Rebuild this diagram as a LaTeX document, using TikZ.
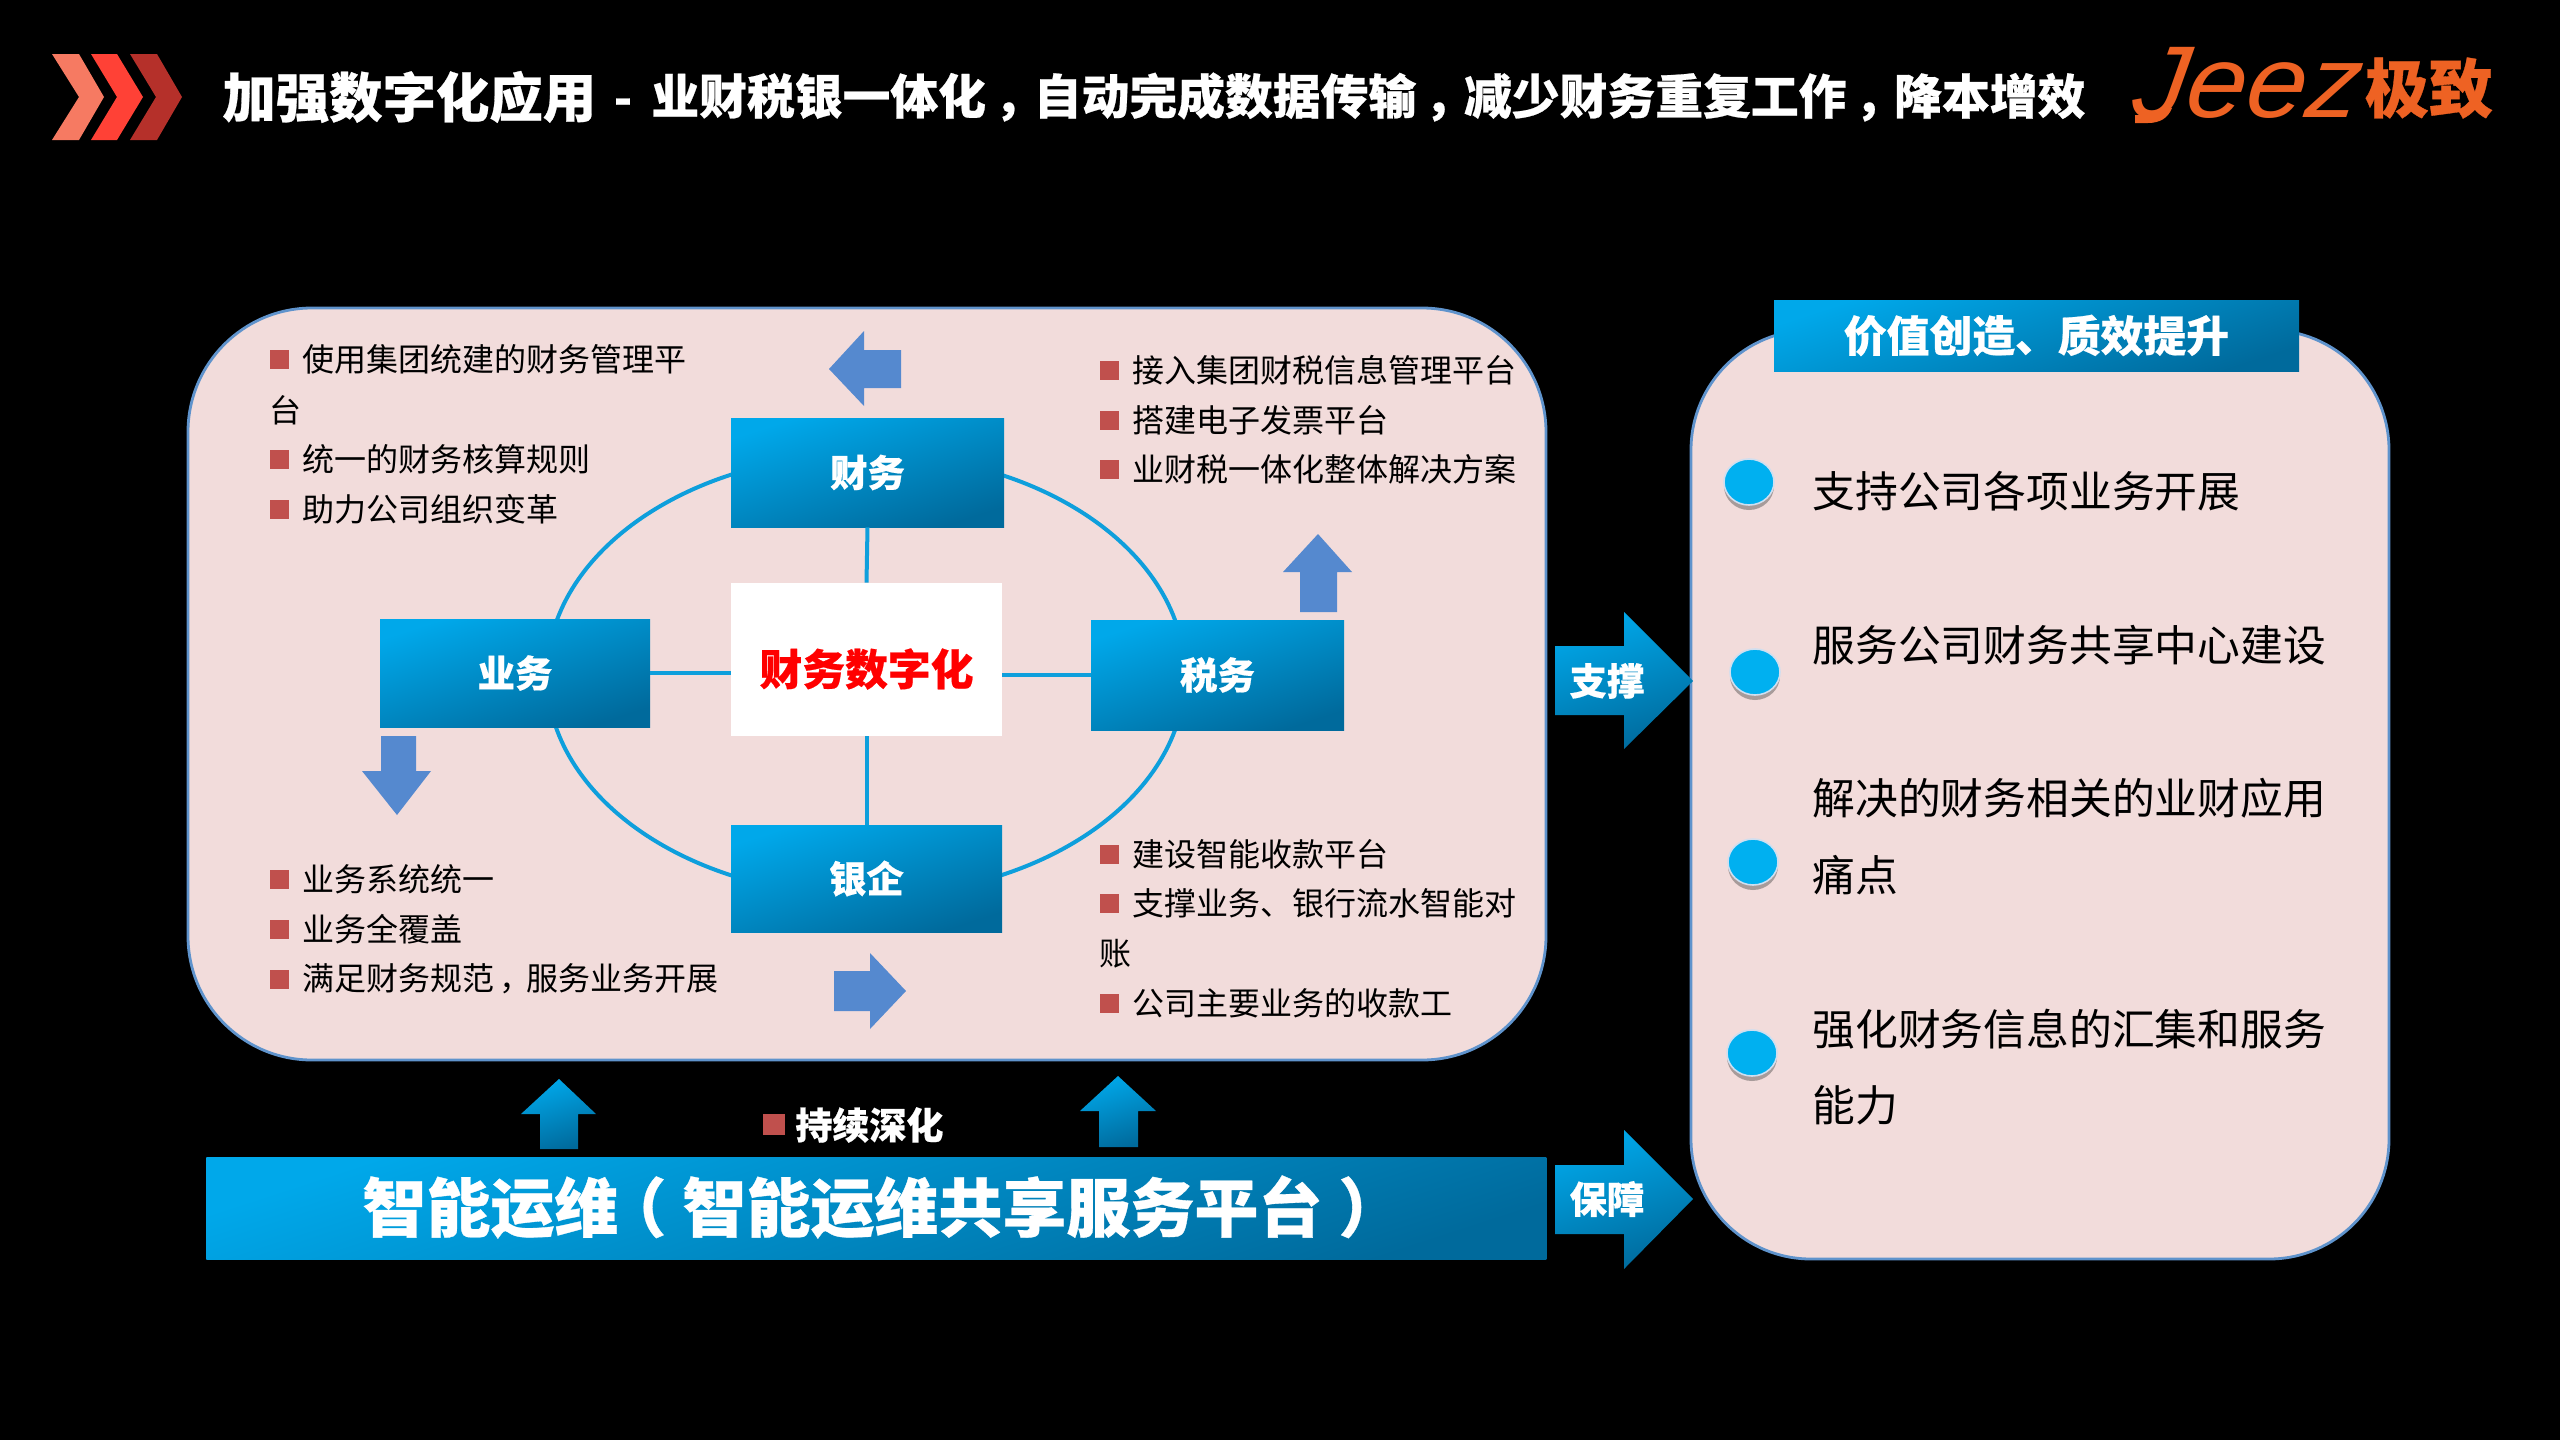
\documentclass[tikz,border=0pt]{standalone}
\usepackage{fontspec}
\setmainfont{Noto Sans CJK SC}[BoldFeatures={FakeBold=0.5}]
\newfontfamily\logof{Liberation Sans}
\newcommand{\zc}{\kern.17em，\kern-.17em}
\definecolor{gA}{HTML}{00A8EA}
\definecolor{gB}{HTML}{006A9C}
\definecolor{panel}{HTML}{F2DCDB}
\definecolor{panelb}{HTML}{5F93CC}
\definecolor{lineb}{HTML}{0E9FDC}
\definecolor{flat}{HTML}{5589CF}
\definecolor{bul}{HTML}{C0504D}
\definecolor{dot}{HTML}{00B0F0}
\definecolor{logo}{HTML}{EE6223}
\tikzset{
  grad/.style={top color=gA,bottom color=gB,shading angle=18},
  panelbox/.style={fill=panel,draw=panelb,line width=1.4pt},
  tbox/.style={grad,inner sep=0pt,text=white,font=\fontsize{18.7}{20}\selectfont\bfseries},
  flatarrow/.style={fill=flat},
  link/.style={draw=lineb,line width=2pt},
  item/.style={anchor=west,inner sep=0pt,text=black,font=\fontsize{16}{18}\selectfont},
  bigitem/.style={anchor=west,inner sep=0pt,text=black,font=\fontsize{21.4}{24}\selectfont},
  sq/.style={fill=bul,inner sep=0pt,minimum width=9.5pt,minimum height=9.5pt},
  ball/.style={fill=dot,draw=white!70!panelb,line width=0.8pt},
  ballshadow/.style={fill=black!70,opacity=0.45},
}
\newcommand{\bl}[4]{\node[sq] (#1s) at (#2,#3) {}; \node[item] (#1t) at (#2+22.5,#3) {#4};}
\begin{document}
\begin{tikzpicture}[x=0.5pt,y=-0.5pt]
\useasboundingbox (0,0) rectangle (2560,1440);
\fill[black] (0,0) rectangle (2560,1440);
% chevrons
\fill[fill={rgb,255:red,246;green,122;blue,98}] (52,54)--(79,54)--(104,97)--(79,140)--(52,140)--(79,97)--cycle;
\fill[fill={rgb,255:red,255;green,65;blue,54}] (91,54)--(117,54)--(143,97)--(117,140)--(91,140)--(117,97)--cycle;
\fill[fill={rgb,255:red,181;green,48;blue,42}] (130,54)--(157,54)--(182,97)--(157,140)--(130,140)--(156,97)--cycle;
% title
\node[anchor=west,inner sep=0pt,text=white,font=\fontsize{26.7}{28}\selectfont\bfseries] (t1) at (222,97) {加强数字化应用};
\node[inner sep=0pt,text=white,font=\fontsize{24}{28}\selectfont\bfseries] (t2) at (623,107) {-};
\node[anchor=west,inner sep=0pt,text=white,font=\fontsize{23.9}{28}\selectfont\bfseries] (t3) at (651,97) {业财税银一体化\zc 自动完成数据传输\zc 减少财务重复工作\zc 降本增效};
% logo
\node[anchor=base west,inner sep=0pt,xslant=0.15,xscale=1.05,text=logo,font=\logof\itshape\fontsize{51}{51}\selectfont] (j) at (2130,117) {Jeez};
\fill[logo] (2135,115) -- (2150,115) .. controls (2156,115) and (2160,113) .. (2163,108) -- (2172,108) .. controls (2168,118) and (2160,123) .. (2148,123) -- (2135,123) -- cycle;
\node[anchor=center,inner sep=0pt,text=logo,font=\fontsize{32}{32}\selectfont\bfseries] (jz) at (2429,88) {极致};
% main panel
\draw[panelbox] (188,308) [rounded corners=62pt] rectangle (1546,1060);
% ring
\draw[link] (866,675) ellipse [x radius=319,y radius=221];
% nodes
\node[tbox,minimum width=136.5pt,minimum height=54.5pt] (cw) at (867.5,472.5) {财务};
\node[tbox,minimum width=135pt,minimum height=54pt] (yw) at (515,673) {业务};
\node[tbox,minimum width=126.5pt,minimum height=55pt] (sw) at (1217.5,675) {税务};
\node[tbox,minimum width=135.5pt,minimum height=53.5pt] (yq) at (866.5,878.5) {银企};
\node[fill=white,inner sep=0pt,minimum width=135.5pt,minimum height=76.5pt,text=red,font=\fontsize{21.4}{24}\selectfont\bfseries] (ct) at (866.5,659.5) {};
\node[inner sep=0pt,text=red,font=\fontsize{21.4}{24}\selectfont\bfseries] (ctl) at (866.5,669) {财务数字化};
\draw[link] (cw.south) -- (ct.north);
\draw[link] (ct.south) -- (yq.north);
\draw[link] (yw.east) -- (yw.east -| ct.west);
\draw[link] (sw.west) -- (sw.west -| ct.east);
% flat arrows
\fill[flatarrow] (829,369)--(864,331)--(864,350)--(901,350)--(901,388)--(864,388)--(864,406)--cycle;
\fill[flatarrow] (1318,534)--(1352,572)--(1337,572)--(1337,612)--(1300,612)--(1300,572)--(1283,572)--cycle;
\fill[flatarrow] (397,815)--(431,771)--(416,771)--(416,736)--(381,736)--(381,771)--(362,771)--cycle;
\fill[flatarrow] (906,991)--(870,953)--(870,971)--(834,971)--(834,1011)--(870,1011)--(870,1029)--cycle;
% lists
\bl{a1}{279.5}{359}{使用集团统建的财务管理平}
\node[item] (a1b) at (269,410) {台};
\bl{a2}{279.5}{459}{统一的财务核算规则}
\bl{a3}{279.5}{509}{助力公司组织变革}
\bl{b1}{1109.5}{370}{接入集团财税信息管理平台}
\bl{b2}{1109.5}{420}{搭建电子发票平台}
\bl{b3}{1109.5}{469}{业财税一体化整体解决方案}
\bl{c1}{279.5}{879}{业务系统统一}
\bl{c2}{279.5}{929}{业务全覆盖}
\bl{c3}{279.5}{979}{满足财务规范\zc 服务业务开展}
\bl{d1}{1109.5}{854}{建设智能收款平台}
\bl{d2}{1109.5}{903}{支撑业务、银行流水智能对}
\node[item] (d2b) at (1099,954) {账};
\bl{d3}{1109.5}{1003}{公司主要业务的收款工}
% right panel
\draw[panelbox] (1691,330) [rounded corners=60pt] rectangle (2389,1259);
\node[tbox,minimum width=262.5pt,minimum height=35.5pt,font=\fontsize{21.4}{24}\selectfont\bfseries] (hd) at (2036.5,335.5) {价值创造、质效提升};
% dots
\fill[ballshadow] (1749,486) ellipse [x radius=25,y radius=24];
\draw[ball] (1749,482) ellipse [x radius=25,y radius=23];
\fill[ballshadow] (1755,676) ellipse [x radius=25,y radius=24];
\draw[ball] (1755,672) ellipse [x radius=25,y radius=23];
\fill[ballshadow] (1753,866) ellipse [x radius=25,y radius=24];
\draw[ball] (1753,862) ellipse [x radius=25,y radius=23];
\fill[ballshadow] (1752,1057) ellipse [x radius=25,y radius=24];
\draw[ball] (1752,1053) ellipse [x radius=25,y radius=23];
\node[bigitem] (r1) at (1812,491) {支持公司各项业务开展};
\node[bigitem] (r2) at (1812,645) {服务公司财务共享中心建设};
\node[bigitem] (r3) at (1812,798) {解决的财务相关的业财应用};
\node[bigitem] (r3b) at (1812,875) {痛点};
\node[bigitem] (r4) at (1812,1029) {强化财务信息的汇集和服务};
\node[bigitem] (r4b) at (1812,1105) {能力};
% block arrows
\path[grad] (1555,646)--(1624,646)--(1624,612)--(1693,681)--(1624,749)--(1624,715)--(1555,715)--cycle;
\node[inner sep=0pt,text=white,font=\fontsize{18.7}{20}\selectfont\bfseries] (zc) at (1607,681) {支撑};
\path[grad] (1555,1165)--(1624,1165)--(1624,1130)--(1693,1199)--(1624,1269)--(1624,1234)--(1555,1234)--cycle;
\node[inner sep=0pt,text=white,font=\fontsize{18.7}{20}\selectfont\bfseries] (bz) at (1607,1199) {保障};
\path[grad] (559,1079)--(596,1114)--(578,1114)--(578,1149)--(540,1149)--(540,1114)--(521,1114)--cycle;
\path[grad] (1118,1076)--(1156,1111)--(1138,1111)--(1138,1147)--(1099,1147)--(1099,1111)--(1080,1111)--cycle;
% bottom
\node[sq,minimum width=11pt,minimum height=10.5pt] (ks) at (774,1124.5) {};
\node[anchor=west,inner sep=0pt,text=white,font=\fontsize{18.5}{20}\selectfont\bfseries] (kt) at (795,1125) {持续深化};
\node[grad,inner sep=0pt,minimum width=670pt,minimum height=51pt,anchor=north west] (bar) at (206,1157) {};
\node[anchor=west,inner sep=0pt,text=white,font=\fontsize{32}{34}\selectfont\bfseries] (barl) at (362,1207) {智能运维\kern-.25em（\kern.25em 智能运维共享服务平台\kern.25em）};
\end{tikzpicture}
\end{document}
